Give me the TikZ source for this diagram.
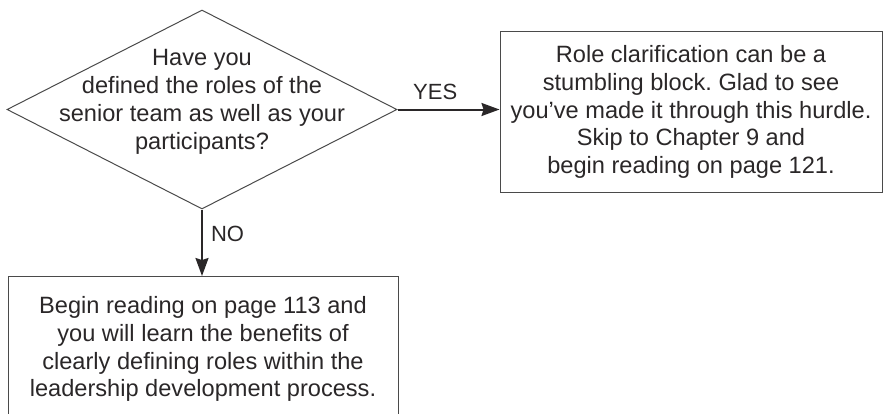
\documentclass[tikz,border=0pt]{standalone}
\usepackage{fontspec}
\setmainfont{Liberation Sans}
\frenchspacing
\usetikzlibrary{shapes.geometric,arrows.meta}
\definecolor{ink}{HTML}{2A2728}
\definecolor{frame}{HTML}{4A4A4A}
\tikzset{
  x=1pt, y=-1pt,
  txt/.style={text=ink, font=\fontsize{23.6}{27.8}\selectfont, align=center, inner sep=0pt},
  decision/.style={diamond, draw=frame, line width=1pt, minimum width=390pt, minimum height=199pt, aspect=1.96, inner sep=0pt},
  outcome/.style={rectangle, draw=frame, line width=1pt, inner sep=0pt},
  flow/.style={draw=ink, line width=2pt, -{Stealth[length=18pt,width=13pt,inset=2pt]}},
  lbl/.style={text=ink, font=\fontsize{22}{26}\selectfont, inner sep=0pt}
}
\begin{document}
\begin{tikzpicture}
  \useasboundingbox (0,0) rectangle (883,413);
  \clip (0,0) rectangle (883,413);
  % question
  \node[decision] (q) at (202,109.5) {};
  \node[txt] (qt) at (202,102) {Have you\\defined the roles of the\\senior team as well as your\\participants?};
  % yes branch
  \node[outcome, minimum width=382pt, minimum height=161pt] (yes) at (691,111.5) {};
  \node[txt] (yt) at (691,112) {Role clarification can be a\\stumbling block. Glad to see\\you’ve made it through this hurdle.\\Skip to Chapter 9 and\\begin reading on page 121.};
  % no branch, running off the lower edge
  \node[outcome, minimum width=390pt, minimum height=180pt, anchor=north] (no) at (203,276) {};
  \node[txt] (nt) at (203,349) {Begin reading on page 113 and\\you will learn the benefits of\\clearly defining roles within the\\leadership development process.};
  % connectors
  \draw[flow] (q.east) -- (yes.west |- q.east) node[lbl, pos=0.37, above=9pt] {YES};
  \draw[flow] (q.south) -- (no.north -| q.south) node[lbl, pos=0.36, right=8pt] {NO};
\end{tikzpicture}
\end{document}
